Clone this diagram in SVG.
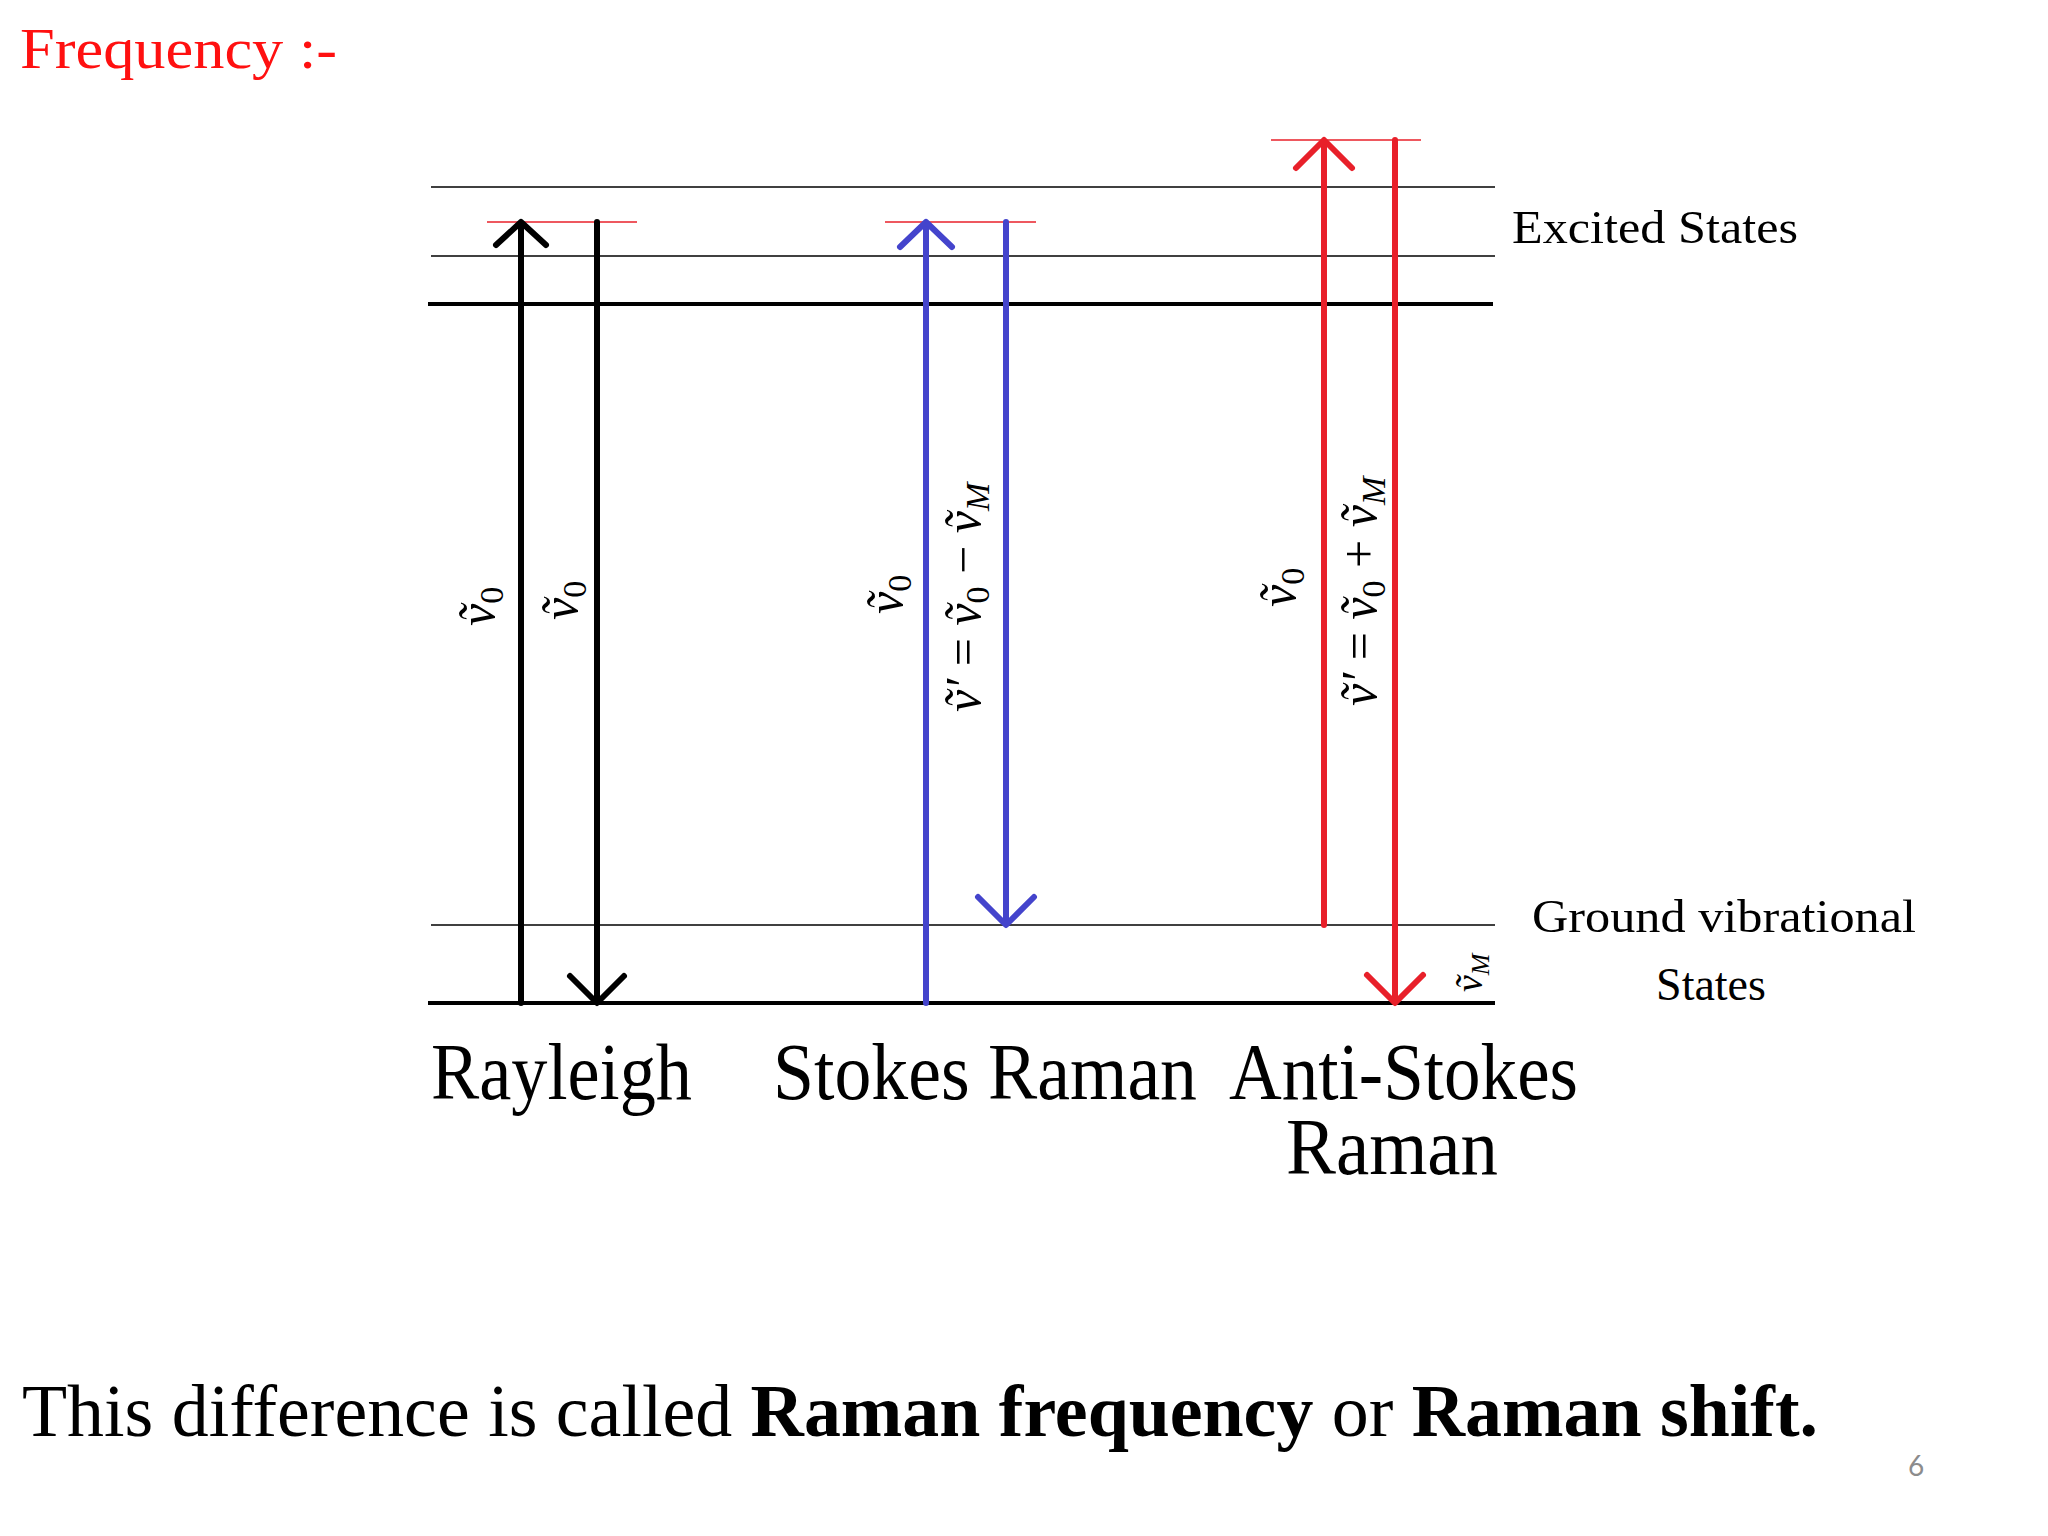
<svg xmlns="http://www.w3.org/2000/svg" width="2048" height="1536" viewBox="0 0 2048 1536">
<style>
.t{font-family:"Liberation Serif","Times New Roman",serif}
.m{font-family:"Liberation Serif",serif;font-size:50px}
.i{font-style:italic}
.thin{stroke:#000;stroke-width:1.5}
.thick{stroke:#000;stroke-width:4}
.red{stroke:#e8202a;stroke-width:1.5}
.ab{fill:none;stroke-width:6;stroke-linecap:round;stroke-linejoin:round}
</style>
<rect width="2048" height="1536" fill="#fff"/>
<text class="t" x="20" y="68" font-size="58" fill="#ff1010" textLength="317" lengthAdjust="spacingAndGlyphs">Frequency :-</text>
<g id="levels">
<line class="thin" x1="431" y1="187" x2="1495" y2="187"/>
<line class="thin" x1="431" y1="256" x2="1495" y2="256"/>
<line class="thick" x1="428" y1="304" x2="1493" y2="304"/>
<line class="thin" x1="431" y1="925" x2="1495" y2="925"/>
<line class="thick" x1="428" y1="1003" x2="1495" y2="1003"/>
<line class="red" x1="487" y1="222" x2="637" y2="222"/>
<line class="red" x1="885" y1="222" x2="1036" y2="222"/>
<line class="red" x1="1271" y1="140" x2="1421" y2="140"/>
</g>
<g id="connectors">
<g stroke="#000" class="ab"><line x1="521" y1="1003" x2="521" y2="224"/><polyline points="496,245 521,222 546,245"/>
<line x1="597" y1="222" x2="597" y2="1001"/><polyline points="570,976 597,1003 624,976"/></g>
<g stroke="#4444cc" class="ab"><line x1="926" y1="1003" x2="926" y2="224"/><polyline points="900,247 926,222 952,247"/>
<line x1="1006" y1="222" x2="1006" y2="923"/><polyline points="978,897 1006,925 1034,897"/></g>
<g stroke="#e8202a" class="ab"><line x1="1324" y1="925" x2="1324" y2="142"/><polyline points="1296,168 1324,140 1352,168"/>
<line x1="1395" y1="140" x2="1395" y2="1001"/><polyline points="1367,975 1395,1003 1423,975"/></g>
</g>
<g id="labels" class="m">
<text transform="translate(494,626) rotate(-90)"><tspan class="i">ṽ</tspan><tspan font-size="34" dy="9">0</tspan></text>
<text transform="translate(577,620) rotate(-90)"><tspan class="i">ṽ</tspan><tspan font-size="34" dy="9">0</tspan></text>
<text transform="translate(902,614) rotate(-90)"><tspan class="i">ṽ</tspan><tspan font-size="34" dy="9">0</tspan></text>
<text transform="translate(980,712) rotate(-90)"><tspan class="i">ṽ′</tspan> = <tspan class="i">ṽ</tspan><tspan font-size="34" dy="9">0</tspan><tspan dy="-9"> − </tspan><tspan class="i">ṽ</tspan><tspan class="i" font-size="34" dy="9">M</tspan></text>
<text transform="translate(1295,607) rotate(-90)"><tspan class="i">ṽ</tspan><tspan font-size="34" dy="9">0</tspan></text>
<text transform="translate(1376,706) rotate(-90)"><tspan class="i">ṽ′</tspan> = <tspan class="i">ṽ</tspan><tspan font-size="34" dy="9">0</tspan><tspan dy="-9"> + </tspan><tspan class="i">ṽ</tspan><tspan class="i" font-size="34" dy="9">M</tspan></text>
<text transform="translate(1482,992) rotate(-90)" font-size="38"><tspan class="i">ṽ</tspan><tspan class="i" font-size="26" dy="7">M</tspan></text>
</g>
<g id="captions" class="t">
<text x="1512" y="243" font-size="46" textLength="286" lengthAdjust="spacingAndGlyphs">Excited States</text>
<text x="1532" y="932" font-size="46" textLength="384" lengthAdjust="spacingAndGlyphs">Ground vibrational</text>
<text x="1711" y="1000" font-size="46" text-anchor="middle">States</text>
<text x="431" y="1099" font-size="80" textLength="261" lengthAdjust="spacingAndGlyphs">Rayleigh</text>
<text x="773" y="1099" font-size="80" textLength="424" lengthAdjust="spacingAndGlyphs">Stokes Raman</text>
<text x="1229" y="1099" font-size="80" textLength="349" lengthAdjust="spacingAndGlyphs">Anti-Stokes</text>
<text x="1286" y="1174" font-size="80" textLength="212" lengthAdjust="spacingAndGlyphs">Raman</text>
<text x="22" y="1436" font-size="74" textLength="1796" lengthAdjust="spacingAndGlyphs">This difference is called <tspan font-weight="bold">Raman frequency</tspan> or <tspan font-weight="bold">Raman shift.</tspan></text>
</g>
<text x="1916" y="1476" font-family="Lato,sans-serif" font-size="28" fill="#8c8c8c" text-anchor="middle">6</text>
</svg>
